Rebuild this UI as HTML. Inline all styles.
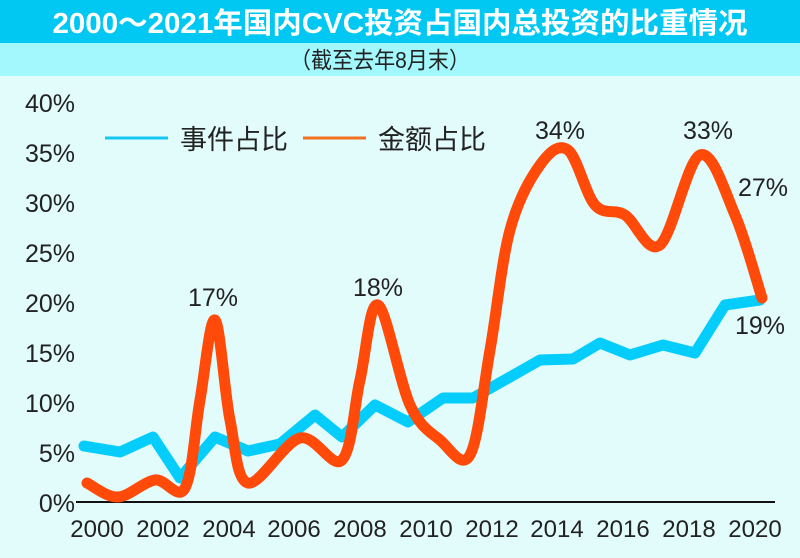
<!DOCTYPE html>
<html><head><meta charset="utf-8"><style>
body{margin:0;width:800px;height:558px;overflow:hidden;background:#e0fcfc;font-family:"Liberation Sans","Noto Sans CJK SC",sans-serif}
</style></head><body>
<svg width="800" height="558" xmlns="http://www.w3.org/2000/svg" style="position:absolute;left:0;top:0">
<rect x="0" y="0" width="800" height="43" fill="#00c8f2"/>
<rect x="0" y="43" width="800" height="33" fill="#a2f8fc"/>
<rect x="0" y="76" width="800" height="482" fill="#e2fcfc"/>
<text x="400" y="33" fill="#fff" font-size="29" font-weight="bold" text-anchor="middle" textLength="695" lengthAdjust="spacingAndGlyphs" font-family="Liberation Sans,Noto Sans CJK SC,sans-serif">2000～2021年国内CVC投资占国内总投资的比重情况</text>
<text x="380" y="68" fill="#222" font-size="23" text-anchor="middle" textLength="180" lengthAdjust="spacingAndGlyphs" font-family="Liberation Sans,Noto Sans CJK SC,sans-serif">（截至去年8月末）</text>
<g font-size="25" fill="#222" text-anchor="end" font-family="Liberation Sans,sans-serif">
<text x="75" y="112">40%</text><text x="75" y="162">35%</text><text x="75" y="212">30%</text><text x="75" y="262">25%</text><text x="75" y="312">20%</text><text x="75" y="362">15%</text><text x="75" y="412">10%</text><text x="75" y="462">5%</text><text x="75" y="512">0%</text>
</g>
<line x1="76" y1="502" x2="775" y2="502" stroke="#111" stroke-width="2"/>
<g font-size="24" fill="#222" text-anchor="middle" font-family="Liberation Sans,sans-serif">
<text x="97" y="537">2000</text><text x="163" y="537">2002</text><text x="229" y="537">2004</text><text x="294" y="537">2006</text><text x="360" y="537">2008</text><text x="426" y="537">2010</text><text x="492" y="537">2012</text><text x="557" y="537">2014</text><text x="623" y="537">2016</text><text x="689" y="537">2018</text><text x="755" y="537">2020</text>
</g>
<line x1="105" y1="138" x2="168" y2="138" stroke="#18c8f4" stroke-width="3"/>
<text x="180" y="149" font-size="27" fill="#222" font-family="Liberation Sans,Noto Sans CJK SC,sans-serif">事件占比</text>
<line x1="303" y1="138" x2="366" y2="138" stroke="#f07020" stroke-width="3"/>
<text x="378" y="149" font-size="27" fill="#222" font-family="Liberation Sans,Noto Sans CJK SC,sans-serif">金额占比</text>
<polyline fill="none" stroke="#05cdfb" stroke-width="11" stroke-linejoin="round" stroke-linecap="round" points="84,446 120,452 153,437 180,478 215,437 248,451 280,444 315,415 342,437 375,405 408,422 443,398 473,398 540,360 573,359 600,343 630,355 663,345 695,353 725,305 760,300"/>
<path id="o" fill="none" stroke="#ff4a0a" stroke-width="11" stroke-linecap="round" stroke-linejoin="round"/>
<g font-size="25" fill="#222" text-anchor="middle" font-family="Liberation Sans,sans-serif">
<text x="213" y="306">17%</text><text x="378" y="296">18%</text><text x="560" y="139">34%</text><text x="708" y="139">33%</text><text x="763" y="196">27%</text><text x="760" y="334">19%</text>
</g>
</svg>
<script>
var p=[[87,483],[118,497],[155,480],[185,488],[200,400],[215,320],[230,420],[248,483],[300,438],[342,460],[360,380],[378,305],[410,405],[440,440],[470,455],[490,350],[510,230],[540,165],[568,150],[595,205],[625,215],[660,245],[700,155],[735,215],[762,298]];
var d="M"+p[0];
for(var i=0;i<p.length-1;i++){var a=p[Math.max(i-1,0)],b=p[i],c=p[i+1],e=p[Math.min(i+2,p.length-1)];
d+=" C"+(b[0]+(c[0]-a[0])/6)+","+(b[1]+(c[1]-a[1])/6)+" "+(c[0]-(e[0]-b[0])/6)+","+(c[1]-(e[1]-b[1])/6)+" "+c[0]+","+c[1];}
document.getElementById("o").setAttribute("d",d);
</script>
</body></html>
